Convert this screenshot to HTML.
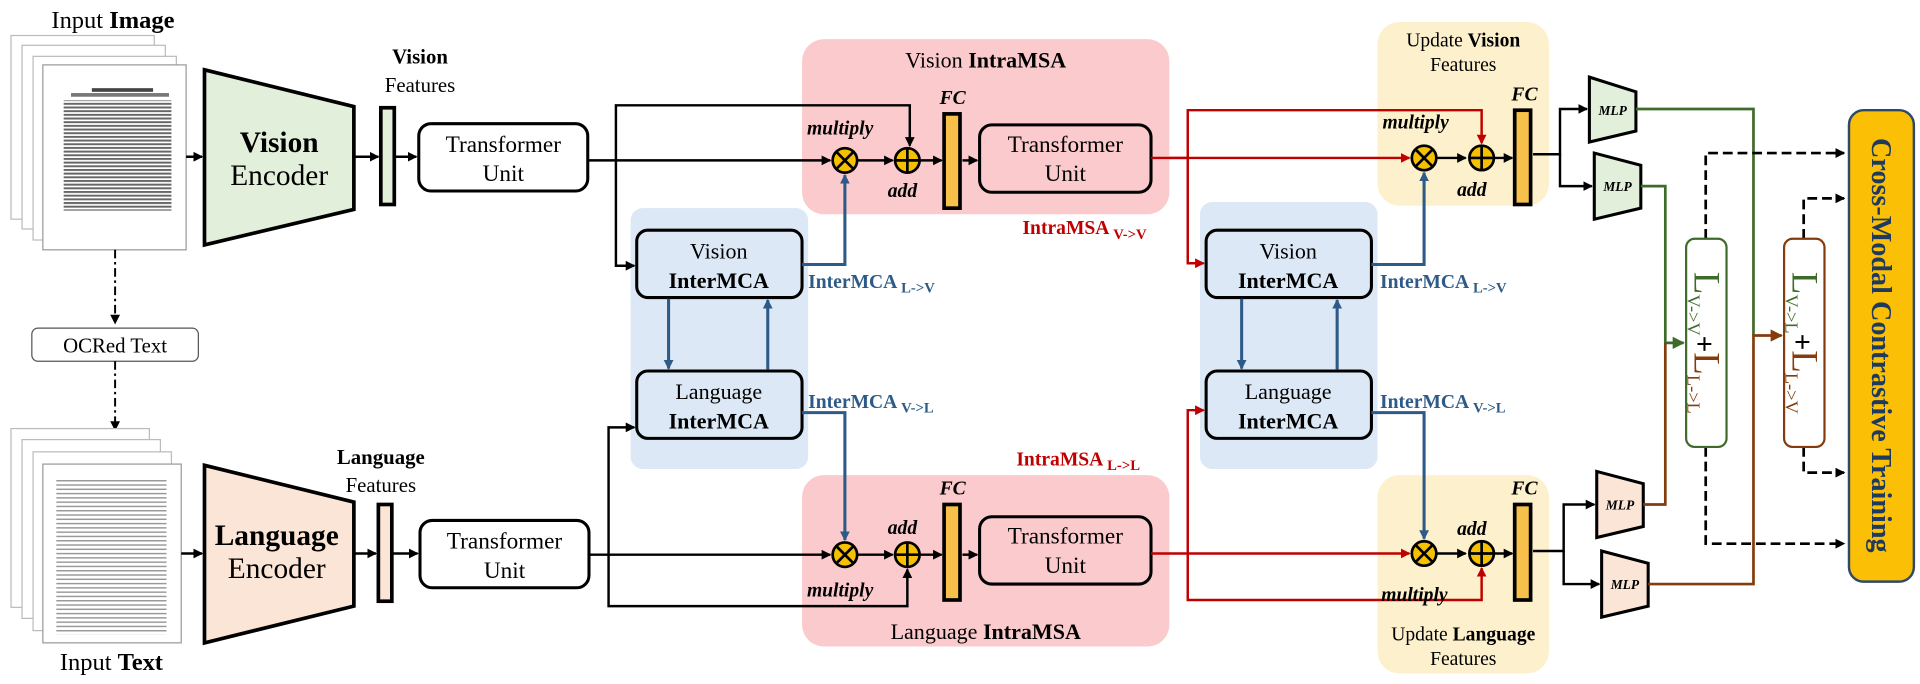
<!DOCTYPE html>
<html><head><meta charset="utf-8"><style>
html,body{margin:0;padding:0;background:#fff;}
svg{display:block;}
text{font-family:"Liberation Serif",serif;}
</style></head><body>
<svg width="1920" height="684" viewBox="0 0 1568 558.6" preserveAspectRatio="none" xmlns="http://www.w3.org/2000/svg">
<defs>
<marker id="ak" markerWidth="8" markerHeight="8" refX="7" refY="4" orient="auto" markerUnits="userSpaceOnUse"><path d="M0,0 L8,4 L0,8 z" fill="#000"/></marker>
<marker id="ar" markerWidth="8" markerHeight="8" refX="7" refY="4" orient="auto" markerUnits="userSpaceOnUse"><path d="M0,0 L8,4 L0,8 z" fill="#c00000"/></marker>
<marker id="ab" markerWidth="8" markerHeight="8" refX="7" refY="4" orient="auto" markerUnits="userSpaceOnUse"><path d="M0,0 L8,4 L0,8 z" fill="#2e5a87"/></marker>
<marker id="ag" markerWidth="10" markerHeight="10" refX="9" refY="5" orient="auto" markerUnits="userSpaceOnUse"><path d="M0,0 L10,5 L0,10 z" fill="#3f6b2a"/></marker>
<marker id="an" markerWidth="10" markerHeight="10" refX="9" refY="5" orient="auto" markerUnits="userSpaceOnUse"><path d="M0,0 L10,5 L0,10 z" fill="#843c0c"/></marker>
<pattern id="txt" width="88" height="3" patternUnits="userSpaceOnUse"><rect x="0" y="0" width="88" height="1.6" fill="#666"/></pattern>
<pattern id="txt2" width="88" height="3.5" patternUnits="userSpaceOnUse"><rect x="0" y="0" width="88" height="1.2" fill="#999"/></pattern>
</defs>

<rect x="655" y="32" width="300" height="143" rx="18" fill="#fbcacd"/>
<rect x="655" y="388" width="300" height="140" rx="18" fill="#fbcacd"/>
<rect x="515" y="170" width="145" height="213" rx="10" fill="#dce8f5"/>
<rect x="980" y="165" width="145" height="218" rx="10" fill="#dce8f5"/>
<rect x="1125" y="18" width="140" height="150" rx="18" fill="#fdf0cc"/>
<rect x="1125" y="388" width="140" height="162" rx="18" fill="#fdf0cc"/>

<text x="42" y="23" font-size="20">Input <tspan font-weight="bold">Image</tspan></text>
<g stroke="#bbb" stroke-width="1" fill="#fff">
<rect x="9" y="29" width="117" height="150"/>
<rect x="18" y="37" width="117" height="150"/>
<rect x="27" y="46" width="117" height="150"/>
<rect x="35" y="53" width="117" height="151" stroke="#999"/>
</g>
<rect x="52" y="82" width="88" height="90" fill="url(#txt)"/>
<rect x="75" y="72" width="50" height="3" fill="#444"/>
<rect x="58" y="76" width="80" height="3" fill="#777"/>

<line x1="94" y1="204" x2="94" y2="264" stroke="#000" stroke-width="1.6" stroke-dasharray="7,3,2,3" marker-end="url(#ak)"/>
<rect x="26" y="268" width="136" height="27" rx="5" fill="#fff" stroke="#555"/>
<text x="94" y="288" font-size="17" text-anchor="middle">OCRed Text</text>
<line x1="94" y1="295" x2="94" y2="351" stroke="#000" stroke-width="1.6" stroke-dasharray="7,3,2,3" marker-end="url(#ak)"/>

<g stroke="#bbb" stroke-width="1" fill="#fff">
<rect x="9" y="350" width="113" height="146"/>
<rect x="18" y="359" width="113" height="146"/>
<rect x="27" y="369" width="113" height="146"/>
<rect x="35" y="379" width="113" height="146" stroke="#999"/>
</g>
<rect x="46" y="390" width="90" height="128" fill="url(#txt2)"/>
<text x="91" y="547" font-size="20" text-anchor="middle">Input <tspan font-weight="bold">Text</tspan></text>

<polygon points="167,57 289,87 289,171 167,200" fill="#e2efda" stroke="#000" stroke-width="3"/>
<text x="228" y="124" font-size="24" font-weight="bold" text-anchor="middle">Vision</text>
<text x="228" y="151" font-size="24" text-anchor="middle">Encoder</text>
<polygon points="167,380 289,410 289,495 167,525" fill="#fbe5d6" stroke="#000" stroke-width="3"/>
<text x="226" y="445" font-size="24" font-weight="bold" text-anchor="middle">Language</text>
<text x="226" y="472" font-size="24" text-anchor="middle">Encoder</text>

<line x1="152" y1="128" x2="165" y2="128" stroke="#000" stroke-width="2" marker-end="url(#ak)"/>
<line x1="148" y1="452" x2="165" y2="452" stroke="#000" stroke-width="2" marker-end="url(#ak)"/>
<line x1="290" y1="128" x2="309" y2="128" stroke="#000" stroke-width="2" marker-end="url(#ak)"/>
<line x1="290" y1="452" x2="307" y2="452" stroke="#000" stroke-width="2" marker-end="url(#ak)"/>

<rect x="311" y="88" width="11" height="79" fill="#e2efda" stroke="#000" stroke-width="3"/>
<rect x="309" y="412" width="11" height="79" fill="#fbe5d6" stroke="#000" stroke-width="3"/>
<text x="343" y="52" font-size="17" font-weight="bold" text-anchor="middle">Vision</text>
<text x="343" y="75" font-size="17" text-anchor="middle">Features</text>
<text x="311" y="379" font-size="17" font-weight="bold" text-anchor="middle">Language</text>
<text x="311" y="402" font-size="17" text-anchor="middle">Features</text>
<line x1="323" y1="128" x2="340" y2="128" stroke="#000" stroke-width="2" marker-end="url(#ak)"/>
<line x1="321" y1="452" x2="341" y2="452" stroke="#000" stroke-width="2" marker-end="url(#ak)"/>

<rect x="342" y="101" width="138" height="55" rx="10" fill="#fff" stroke="#000" stroke-width="2.5"/>
<text x="411" y="124" font-size="19" text-anchor="middle">Transformer</text>
<text x="411" y="148" font-size="19" text-anchor="middle">Unit</text>
<rect x="343" y="425" width="138" height="55" rx="10" fill="#fff" stroke="#000" stroke-width="2.5"/>
<text x="412" y="448" font-size="19" text-anchor="middle">Transformer</text>
<text x="412" y="472" font-size="19" text-anchor="middle">Unit</text>

<g fill="none" stroke="#000" stroke-width="2">
<polyline points="480,131 678,131" marker-end="url(#ak)"/>
<polyline points="503,131 503,86 743,86 743,119" marker-end="url(#ak)"/>
<polyline points="503,131 503,217 518,217" marker-end="url(#ak)"/>
<line x1="700" y1="131" x2="729" y2="131" marker-end="url(#ak)"/>
<line x1="751" y1="131" x2="769" y2="131" marker-end="url(#ak)"/>
<line x1="786" y1="131" x2="798" y2="131" marker-end="url(#ak)"/>
<polyline points="481,453 678,453" marker-end="url(#ak)"/>
<polyline points="497,453 497,349 518,349" marker-end="url(#ak)"/>
<polyline points="497,453 497,495 741,495 741,465" marker-end="url(#ak)"/>
<line x1="700" y1="453" x2="729" y2="453" marker-end="url(#ak)"/>
<line x1="751" y1="453" x2="769" y2="453" marker-end="url(#ak)"/>
<line x1="786" y1="453" x2="798" y2="453" marker-end="url(#ak)"/>
</g>

<text x="805" y="55" font-size="18" text-anchor="middle">Vision <tspan font-weight="bold">IntraMSA</tspan></text>
<text x="805" y="522" font-size="18" text-anchor="middle">Language <tspan font-weight="bold">IntraMSA</tspan></text>

<rect x="771" y="93" width="13" height="77" fill="#f6c04a" stroke="#000" stroke-width="3"/>
<rect x="771" y="412" width="13" height="78" fill="#f6c04a" stroke="#000" stroke-width="3"/>
<text x="778" y="85" font-size="16" font-weight="bold" font-style="italic" text-anchor="middle">FC</text>
<text x="778" y="404" font-size="16" font-weight="bold" font-style="italic" text-anchor="middle">FC</text>
<text x="659" y="110" font-size="16" font-weight="bold" font-style="italic">multiply</text>
<text x="725" y="161" font-size="16" font-weight="bold" font-style="italic">add</text>
<text x="725" y="436" font-size="16" font-weight="bold" font-style="italic">add</text>
<text x="659" y="487" font-size="16" font-weight="bold" font-style="italic">multiply</text>

<rect x="800" y="102" width="140" height="55" rx="10" fill="#fbcacd" stroke="#000" stroke-width="2.5"/>
<text x="870" y="124" font-size="19" text-anchor="middle">Transformer</text>
<text x="870" y="148" font-size="19" text-anchor="middle">Unit</text>
<rect x="800" y="422" width="140" height="55" rx="10" fill="#fbcacd" stroke="#000" stroke-width="2.5"/>
<text x="870" y="444" font-size="19" text-anchor="middle">Transformer</text>
<text x="870" y="468" font-size="19" text-anchor="middle">Unit</text>

<g fill="none" stroke="#000" stroke-width="2.5">
<rect x="520" y="188" width="135" height="55" rx="9"/>
<rect x="520" y="303" width="135" height="55" rx="9"/>
<rect x="985" y="188" width="135" height="55" rx="9"/>
<rect x="985" y="303" width="135" height="55" rx="9"/>
</g>
<g font-size="18" text-anchor="middle">
<text x="587" y="211">Vision</text><text x="587" y="235" font-weight="bold">InterMCA</text>
<text x="587" y="326">Language</text><text x="587" y="350" font-weight="bold">InterMCA</text>
<text x="1052" y="211">Vision</text><text x="1052" y="235" font-weight="bold">InterMCA</text>
<text x="1052" y="326">Language</text><text x="1052" y="350" font-weight="bold">InterMCA</text>
</g>

<g fill="none" stroke="#2e5a87" stroke-width="2.5">
<line x1="546" y1="244" x2="546" y2="301" marker-end="url(#ab)"/>
<line x1="627" y1="302" x2="627" y2="245" marker-end="url(#ab)"/>
<line x1="1014" y1="244" x2="1014" y2="301" marker-end="url(#ab)"/>
<line x1="1092" y1="302" x2="1092" y2="245" marker-end="url(#ab)"/>
<polyline points="655,216 690,216 690,143" marker-end="url(#ab)"/>
<polyline points="655,337 690,337 690,441" marker-end="url(#ab)"/>
<polyline points="1120,216 1163,216 1163,141" marker-end="url(#ab)"/>
<polyline points="1120,337 1163,337 1163,440" marker-end="url(#ab)"/>
</g>
<g fill="#2e5a87" font-weight="bold">
<text x="660" y="235" font-size="16">InterMCA <tspan font-size="12" dy="4">L-&gt;V</tspan></text>
<text x="660" y="333" font-size="16">InterMCA <tspan font-size="12" dy="4">V-&gt;L</tspan></text>
<text x="1127" y="235" font-size="16">InterMCA <tspan font-size="12" dy="4">L-&gt;V</tspan></text>
<text x="1127" y="333" font-size="16">InterMCA <tspan font-size="12" dy="4">V-&gt;L</tspan></text>
</g>

<g fill="none" stroke="#c00000" stroke-width="2">
<polyline points="940,129 1151,129" marker-end="url(#ar)"/>
<polyline points="955,129 970,129 970,90 1210,90 1210,117" marker-end="url(#ar)"/>
<polyline points="970,129 970,215 983,215" marker-end="url(#ar)"/>
<polyline points="940,452 1151,452" marker-end="url(#ar)"/>
<polyline points="970,452 970,335 983,335" marker-end="url(#ar)"/>
<polyline points="970,452 970,490 1210,490 1210,464" marker-end="url(#ar)"/>
</g>
<text x="835" y="191" font-size="16" font-weight="bold" fill="#c00000">IntraMSA <tspan font-size="12" dy="4">V-&gt;V</tspan></text>
<text x="830" y="380" font-size="16" font-weight="bold" fill="#c00000">IntraMSA <tspan font-size="12" dy="4">L-&gt;L</tspan></text>

<text x="1195" y="38" font-size="16" text-anchor="middle">Update <tspan font-weight="bold">Vision</tspan></text>
<text x="1195" y="58" font-size="16" text-anchor="middle">Features</text>
<text x="1195" y="523" font-size="16" text-anchor="middle">Update <tspan font-weight="bold">Language</tspan></text>
<text x="1195" y="543" font-size="16" text-anchor="middle">Features</text>
<text x="1129" y="105" font-size="16" font-weight="bold" font-style="italic">multiply</text>
<text x="1190" y="160" font-size="16" font-weight="bold" font-style="italic">add</text>
<text x="1190" y="437" font-size="16" font-weight="bold" font-style="italic">add</text>
<text x="1128" y="491" font-size="16" font-weight="bold" font-style="italic">multiply</text>
<text x="1245" y="82" font-size="16" font-weight="bold" font-style="italic" text-anchor="middle">FC</text>
<text x="1245" y="404" font-size="16" font-weight="bold" font-style="italic" text-anchor="middle">FC</text>

<g fill="none" stroke="#000" stroke-width="2">
<line x1="1173" y1="129" x2="1197" y2="129" marker-end="url(#ak)"/>
<line x1="1220" y1="129" x2="1235" y2="129" marker-end="url(#ak)"/>
<line x1="1173" y1="452" x2="1197" y2="452" marker-end="url(#ak)"/>
<line x1="1220" y1="452" x2="1235" y2="452" marker-end="url(#ak)"/>
<polyline points="1252,126 1274,126 1274,89 1296,89" marker-end="url(#ak)"/>
<polyline points="1274,126 1274,152 1300,152" marker-end="url(#ak)"/>
<polyline points="1252,450 1277,450 1277,412 1302,412" marker-end="url(#ak)"/>
<polyline points="1277,450 1277,477 1306,477" marker-end="url(#ak)"/>
</g>
<rect x="1237" y="90" width="13" height="77" fill="#f6c04a" stroke="#000" stroke-width="3"/>
<rect x="1237" y="412" width="13" height="78" fill="#f6c04a" stroke="#000" stroke-width="3"/>

<g stroke="#000" stroke-width="2.2">
<g transform="translate(690,131)"><circle r="10" fill="#f5c000"/><line x1="-7" y1="-7" x2="7" y2="7"/><line x1="-7" y1="7" x2="7" y2="-7"/></g>
<g transform="translate(741,131)"><circle r="10" fill="#f5c000"/><line x1="-10" y1="0" x2="10" y2="0"/><line x1="0" y1="-10" x2="0" y2="10"/></g>
<g transform="translate(690,453)"><circle r="10" fill="#f5c000"/><line x1="-7" y1="-7" x2="7" y2="7"/><line x1="-7" y1="7" x2="7" y2="-7"/></g>
<g transform="translate(741,453)"><circle r="10" fill="#f5c000"/><line x1="-10" y1="0" x2="10" y2="0"/><line x1="0" y1="-10" x2="0" y2="10"/></g>
<g transform="translate(1163,129)"><circle r="10" fill="#f5c000"/><line x1="-7" y1="-7" x2="7" y2="7"/><line x1="-7" y1="7" x2="7" y2="-7"/></g>
<g transform="translate(1210,129)"><circle r="10" fill="#f5c000"/><line x1="-10" y1="0" x2="10" y2="0"/><line x1="0" y1="-10" x2="0" y2="10"/></g>
<g transform="translate(1163,452)"><circle r="10" fill="#f5c000"/><line x1="-7" y1="-7" x2="7" y2="7"/><line x1="-7" y1="7" x2="7" y2="-7"/></g>
<g transform="translate(1210,452)"><circle r="10" fill="#f5c000"/><line x1="-10" y1="0" x2="10" y2="0"/><line x1="0" y1="-10" x2="0" y2="10"/></g>
</g>

<g stroke="#000" stroke-width="2.5">
<polygon points="1298,63 1336,75 1336,107 1298,116" fill="#e2efda"/>
<polygon points="1302,125 1340,135 1340,170 1302,179" fill="#e2efda"/>
<polygon points="1304,385 1342,395 1342,430 1304,439" fill="#fbe5d6"/>
<polygon points="1308,450 1346,460 1346,495 1308,504" fill="#fbe5d6"/>
</g>
<g font-size="11" font-weight="bold" font-style="italic" text-anchor="middle">
<text x="1317" y="94">MLP</text><text x="1321" y="156">MLP</text>
<text x="1323" y="416">MLP</text><text x="1327" y="481">MLP</text>
</g>

<g fill="none" stroke-width="2.2">
<polyline points="1336,89 1432,89 1432,274" stroke="#3f6b2a"/>
<polyline points="1340,152 1360,152 1360,280 1375,280" stroke="#3f6b2a" marker-end="url(#ag)"/>
<polyline points="1342,412 1360,412 1360,280" stroke="#843c0c"/>
<polyline points="1346,477 1432,477 1432,274 1455,274" stroke="#843c0c" marker-end="url(#an)"/>
</g>

<g fill="none" stroke="#000" stroke-width="2.2" stroke-dasharray="8,4">
<polyline points="1393,195 1393,125 1506,125" marker-end="url(#ak)"/>
<polyline points="1393,365 1393,444 1506,444" marker-end="url(#ak)"/>
<polyline points="1473,195 1473,162 1506,162" marker-end="url(#ak)"/>
<polyline points="1473,365 1473,386 1506,386" marker-end="url(#ak)"/>
</g>

<rect x="1377" y="195" width="33" height="170" rx="7" fill="#fff" stroke="#3f6b2a" stroke-width="1.8"/>
<rect x="1457" y="195" width="33" height="170" rx="7" fill="#fff" stroke="#843c0c" stroke-width="1.8"/>
<g transform="translate(1384,280) rotate(90)">
<text x="0" y="0" font-size="30" text-anchor="middle"><tspan fill="#3f6b2a">L</tspan><tspan fill="#3f6b2a" font-size="15" dy="6">V-&gt;V</tspan><tspan dy="-6" font-weight="bold" font-size="24" fill="#000">+</tspan><tspan fill="#843c0c">L</tspan><tspan fill="#843c0c" font-size="15" dy="6">L-&gt;L</tspan></text>
</g>
<g transform="translate(1464,280) rotate(90)">
<text x="0" y="0" font-size="30" text-anchor="middle"><tspan fill="#3f6b2a">L</tspan><tspan fill="#3f6b2a" font-size="15" dy="6">V-&gt;L</tspan><tspan dy="-6" font-weight="bold" font-size="24" fill="#000">+</tspan><tspan fill="#843c0c">L</tspan><tspan fill="#843c0c" font-size="15" dy="6">L-&gt;V</tspan></text>
</g>

<rect x="1510" y="90" width="53" height="385" rx="12" fill="#fbbf05" stroke="#2e4a6b" stroke-width="2"/>
<g transform="translate(1529,282) rotate(90)">
<text x="0" y="0" font-size="23" font-weight="bold" fill="#1f3a5f" text-anchor="middle">Cross-Modal Contrastive Training</text>
</g>
</svg>
</body></html>
